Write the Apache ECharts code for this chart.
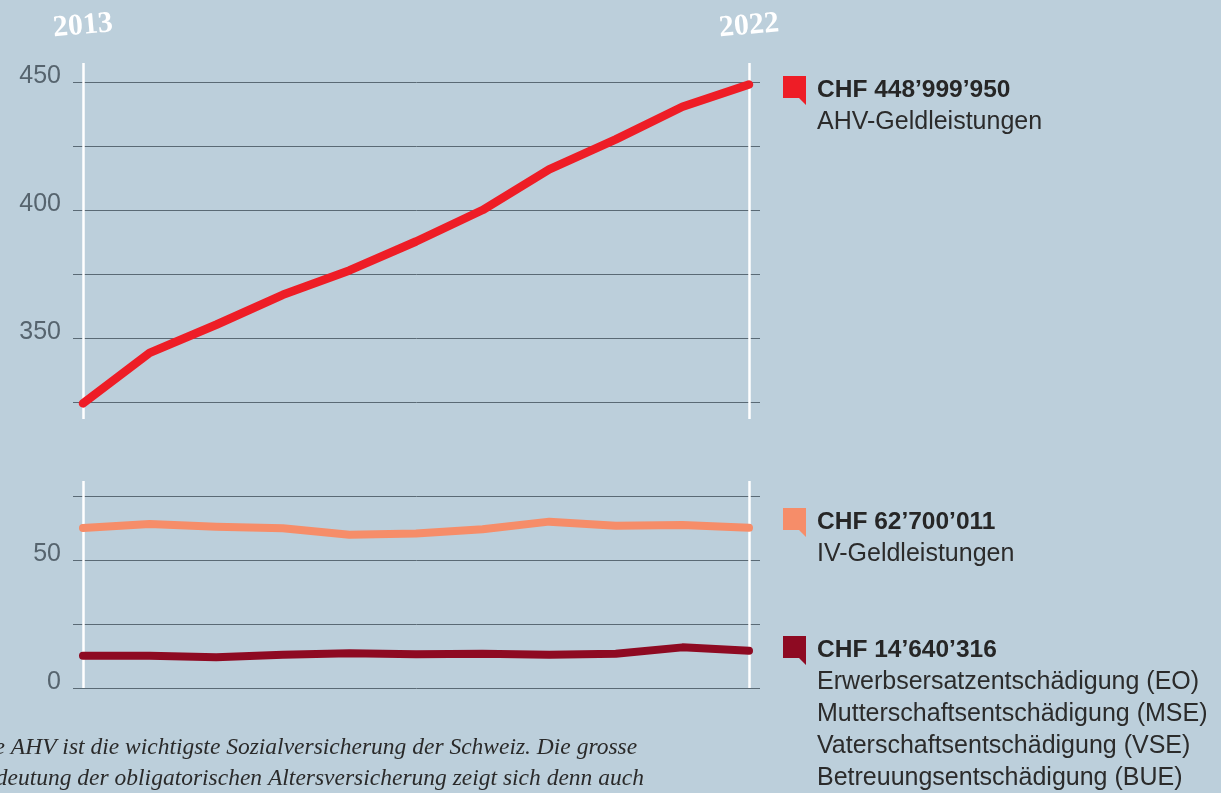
<!DOCTYPE html>
<html>
<head>
<meta charset="utf-8">
<script src="https://cdn.jsdelivr.net/npm/echarts@6/dist/echarts.min.js"></script>
<style>
    html, body { margin: 0; padding: 0; background: #bccfdb; }
    #chart { width: 1221px; height: 793px; }
</style>
</head>
<body>
<div id="chart"></div>
<script>
// 11 data points, first labelled 2013, last labelled 2022
const points = [0, 1, 2, 3, 4, 5, 6, 7, 8, 9, 10]
const yearTicks = [0, 10]
const yearLabels = ['2013', '2022']

// values in millions CHF
const ahv = [324.5, 344.2, 355.2, 366.9, 376.4, 387.7, 400.0, 415.9, 427.6, 440.3, 449.0]
const iv = [62.6, 64.2, 63.1, 62.5, 60.0, 60.5, 62.1, 65.1, 63.5, 63.8, 62.7]
const eo = [12.6, 12.6, 12.0, 13.0, 13.6, 13.2, 13.4, 13.0, 13.4, 15.9, 14.6]

const topTicks = [325, 350, 375, 400, 425, 450]
const topLabels = [350, 400, 450]
const bottomTicks = [0, 25, 50, 75]
const bottomLabels = [0, 50]

const seriesNames = ['AHV', 'IV', 'EO']
const colors = ['#ee1d26', '#f68d69', '#8e0a22']
const totals = ['CHF 448’999’950', 'CHF 62’700’011', 'CHF 14’640’316']
const descriptions = [
    ['AHV-Geldleistungen'],
    ['IV-Geldleistungen'],
    ['Erwerbsersatzentschädigung (EO)', 'Mutterschaftsentschädigung (MSE)',
        'Vaterschaftsentschädigung (VSE)', 'Betreuungsentschädigung (BUE)']
]
const note = [
    'Die AHV ist die wichtigste Sozialversicherung der Schweiz. Die grosse',
    'Bedeutung der obligatorischen Altersversicherung zeigt sich denn auch'
]

const gridColor = '#5a6a75'
const labelFont = 'Liberation Sans'
const flag = 'path://M0,0L23,0L23,29L16,22L0,22Z'

const guideLines = (ticks) => ({
    silent: true,
    z: 1,
    animation: false,
    symbol: ['none', 'none'],
    label: { show: false },
    emphasis: { disabled: true },
    data: [
        ...ticks.map(v => ({ yAxis: v, lineStyle: { color: gridColor, width: 1, type: 'solid' } })),
        ...yearTicks.map(v => ({ xAxis: v, lineStyle: { color: '#ffffff', width: 2.5, type: 'solid' } }))
    ]
})

const xAxisBase = (gridIndex, showYears) => ({
    type: 'value',
    gridIndex,
    position: 'top',
    min: -0.15,
    max: 10.165,
    axisLine: { show: false },
    axisTick: { show: false },
    splitLine: { show: false },
    axisLabel: {
        show: showYears,
        customValues: yearTicks,
        formatter: v => yearLabels[yearTicks.indexOf(v)],
        rotate: -5,
        align: 'center',
        verticalAlign: 'middle',
        margin: 37,
        color: '#ffffff',
        fontFamily: 'Liberation Serif',
        fontWeight: 'bold',
        fontSize: 30
    }
})

const yAxisBase = (gridIndex, min, max, labels) => ({
    type: 'value',
    gridIndex,
    min,
    max,
    axisLine: { show: false },
    axisTick: { show: false },
    splitLine: { show: false },
    axisLabel: {
        customValues: labels,
        margin: 12,
        color: '#56646e',
        fontFamily: labelFont,
        fontSize: 25,
        verticalAlign: 'bottom',
        lineHeight: 12
    }
})

const lineSeries = (i, values, xi, width, ticks) => ({
    name: seriesNames[i],
    type: 'line',
    xAxisIndex: xi,
    yAxisIndex: xi,
    data: points.map((p, k) => [p, values[k]]),
    showSymbol: false,
    color: colors[i],
    lineStyle: { width, color: colors[i], cap: 'round', join: 'round' },
    emphasis: { disabled: true },
    markLine: ticks ? guideLines(ticks) : undefined,
    z: 3
})

const legendTops = [42.5, 474.5, 506.5]
const legends = seriesNames.map((name, i) => ({
    data: [name],
    left: 783,
    top: legendTops[i],
    padding: 0,
    orient: 'vertical',
    selectedMode: false,
    icon: flag,
    itemWidth: 23,
    itemHeight: 29,
    itemStyle: { color: colors[i] },
    formatter: () => '{b|' + totals[i] + '}\n' + descriptions[i].map(d => '{n|' + d + '}').join('\n'),
    textStyle: {
        backgroundColor: 'rgba(0,0,0,0)',
        padding: [descriptions[i].length * 32, 0, 0, 6],
        rich: {
            b: { fontFamily: labelFont, fontWeight: 'bold', fontSize: 24.5, lineHeight: 32, color: '#262626' },
            n: { fontFamily: labelFont, fontSize: 25, lineHeight: 32, color: '#2b2b2b' }
        }
    }
}))

const myChart = echarts.init(document.getElementById('chart'))
const option = {
    backgroundColor: '#bccfdb',
    animation: false,
    title: {
        text: note.join('\n'),
        left: -29,
        top: 732,
        padding: 0,
        textStyle: {
            fontFamily: 'Liberation Serif',
            fontStyle: 'italic',
            fontWeight: 'normal',
            fontSize: 23.5,
            lineHeight: 31,
            color: '#2a2a2a'
        }
    },
    legend: legends,
    grid: [
        { left: 73, width: 687, top: 63, height: 356 },
        { left: 73, width: 687, top: 481, height: 207 }
    ],
    xAxis: [xAxisBase(0, true), xAxisBase(1, false)],
    yAxis: [
        yAxisBase(0, 318.4, 457.4, topLabels),
        yAxisBase(1, 0, 81, bottomLabels)
    ],
    series: [
        lineSeries(0, ahv, 0, 8.5, topTicks),
        lineSeries(1, iv, 1, 8, bottomTicks),
        lineSeries(2, eo, 1, 8, null)
    ]
}
myChart.setOption(option)
</script>
</body>
</html>
